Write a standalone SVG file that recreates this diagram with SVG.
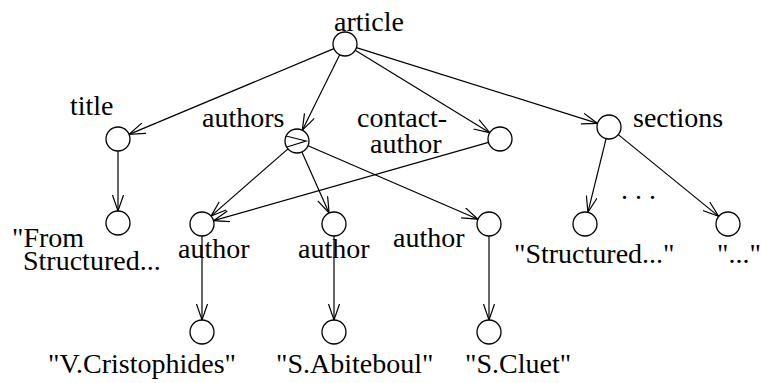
<svg xmlns="http://www.w3.org/2000/svg" width="761" height="383" viewBox="0 0 761 383">
<style>
.t{font-family:'Liberation Serif','Times New Roman',Tinos,'DejaVu Serif',serif;font-size:28px;fill:#000}
.n{fill:#fff;stroke:#000;stroke-width:1.3}
.e{stroke:#000;stroke-width:1.2;fill:none;marker-end:url(#ah)}
</style>
<defs>
<marker id="ah" markerUnits="userSpaceOnUse" markerWidth="20" markerHeight="14" refX="16" refY="6" orient="auto">
<path d="M0,0.5 L16,6 L0,11.5" fill="none" stroke="#000" stroke-width="1.2"/>
</marker>
</defs>
<rect width="761" height="383" fill="#fff"/>
<g id="connectors">
<line class="e" x1="333.9" y1="48.6" x2="129.1" y2="134.4"/>
<line class="e" x1="339.7" y1="54.8" x2="302.3" y2="130.2"/>
<line class="e" x1="355.2" y1="50.3" x2="489.8" y2="132.7"/>
<line class="e" x1="356.4" y1="47.6" x2="597.6" y2="123.4"/>
<line class="e" x1="118" y1="151" x2="118" y2="211"/>
<line class="e" x1="288" y1="148.9" x2="211" y2="216.1"/>
<line class="e" x1="301.9" y1="152" x2="329.1" y2="213"/>
<line class="e" x1="308" y1="145.8" x2="478" y2="219.2"/>
<line class="e" x1="488.5" y1="142.3" x2="213.5" y2="220.7"/>
<line class="e" x1="202" y1="236" x2="202" y2="320"/>
<line class="e" x1="334" y1="236" x2="334" y2="320"/>
<line class="e" x1="489" y1="236" x2="489" y2="320"/>
<line class="e" x1="606.1" y1="138.7" x2="587.9" y2="212.3"/>
<line class="e" x1="618.3" y1="134.6" x2="718.7" y2="216.4"/>
</g>
<g font-family="Liberation Serif, Times New Roman, serif" font-size="28">
<g id="article"><circle class="n" cx="345" cy="44" r="12"/><text class="t" x="334" y="31">article</text></g>
<g id="title"><circle class="n" cx="118" cy="139" r="12"/><text class="t" x="70" y="115">title</text></g>
<g id="authors"><circle class="n" cx="297" cy="141" r="12"/><path d="M286,136 L306,141 L287,147" fill="none" stroke="#000" stroke-width="1.2"/><text class="t" x="202" y="127">authors</text></g>
<g id="contact-author"><circle class="n" cx="500" cy="139" r="12"/><text class="t" x="357" y="127">contact-</text><text class="t" x="370" y="153">author</text></g>
<g id="sections"><circle class="n" cx="609" cy="127" r="12"/><text class="t" x="633" y="127">sections</text></g>
<g id="title-value"><circle class="n" cx="118" cy="223" r="12"/><text class="t" x="12" y="247">"From</text><text class="t" x="23" y="270">Structured...</text></g>
<g id="author1"><circle class="n" cx="202" cy="224" r="12"/><text class="t" x="178" y="258">author</text></g>
<g id="author2"><circle class="n" cx="334" cy="224" r="12"/><text class="t" x="298" y="258">author</text></g>
<g id="author3"><circle class="n" cx="489" cy="224" r="12"/><text class="t" x="393" y="247">author</text></g>
<g id="section1"><circle class="n" cx="585" cy="224" r="12"/><text class="t" x="514" y="263">"Structured..."</text></g>
<g id="section2"><circle class="n" cx="728" cy="224" r="12"/><text class="t" x="717" y="263">"..."</text></g>
<text class="t" x="621" y="199">. . .</text>
<g id="author1-value"><circle class="n" cx="202" cy="332" r="12"/><text class="t" x="48" y="373">"V.Cristophides"</text></g>
<g id="author2-value"><circle class="n" cx="334" cy="332" r="12"/><text class="t" x="276" y="373">"S.Abiteboul"</text></g>
<g id="author3-value"><circle class="n" cx="489" cy="332" r="12"/><text class="t" x="465" y="373">"S.Cluet"</text></g>
</g>
</svg>
